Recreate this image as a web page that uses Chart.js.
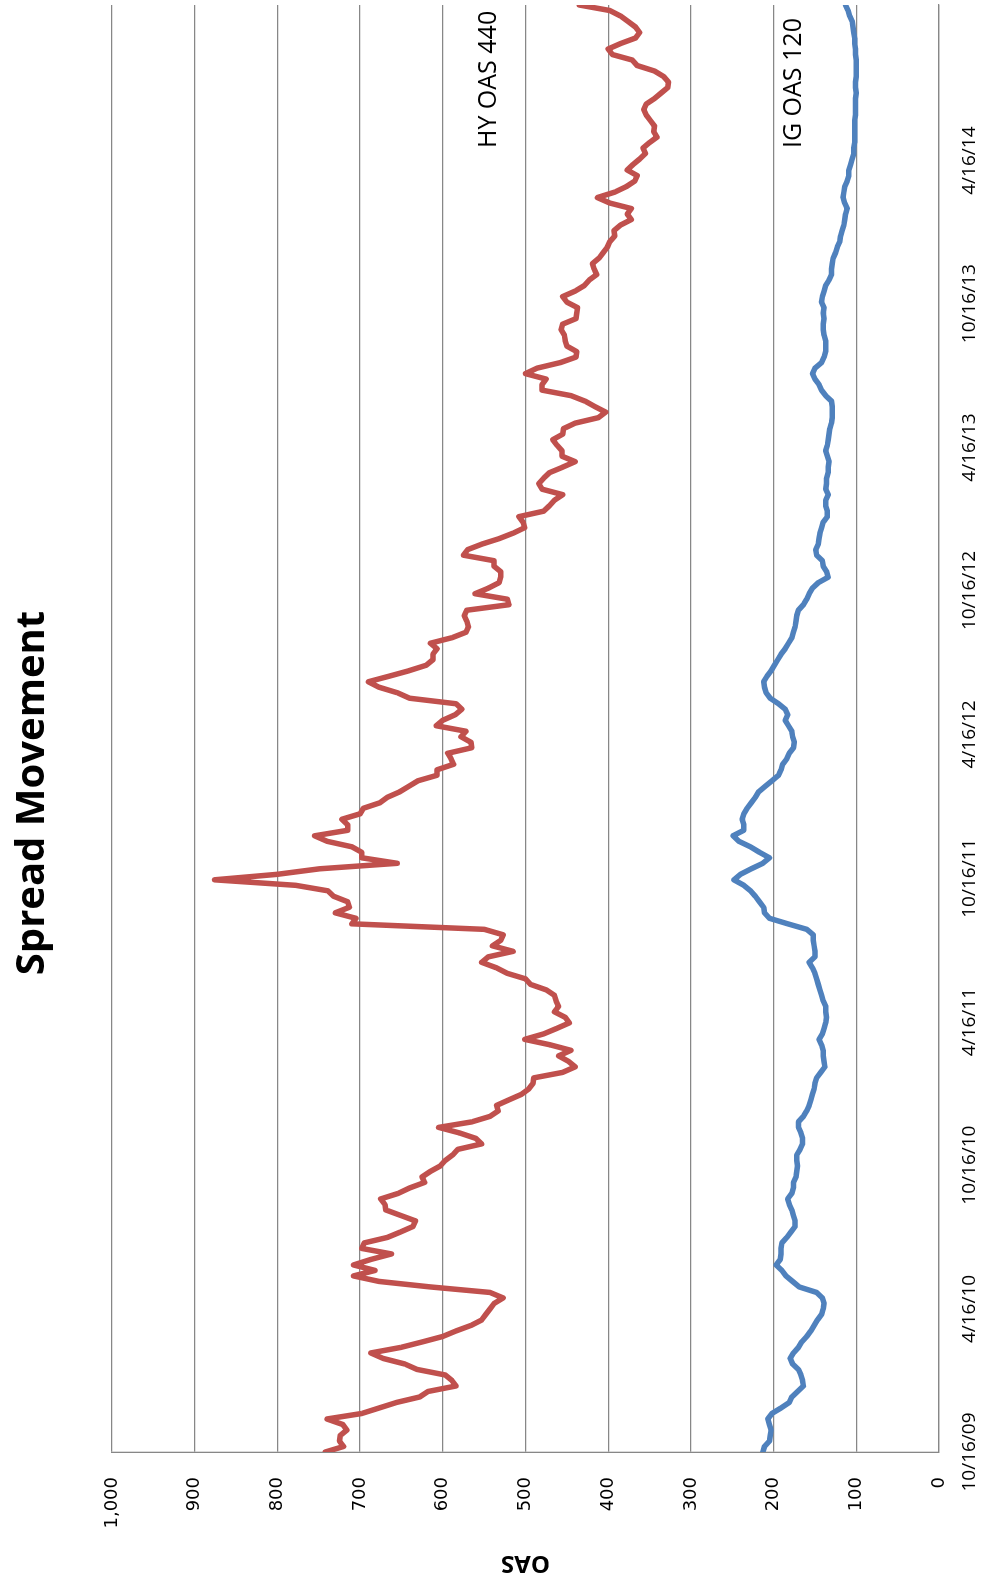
<!DOCTYPE html>
<html lang="en">
<head>
<meta charset="UTF-8" />
<title>Spread Movement</title>
<script src="https://cdn.jsdelivr.net/npm/chart.js@4.4.0/dist/chart.umd.min.js"></script>
<style>
  html, body { margin: 0; padding: 0; background: #fff; overflow: hidden; width: 990px; height: 1581px; }
  /* the whole chart is laid out on its side, as in the source sheet */
  #turn { position: absolute; left: 0; top: 0; width: 1581px; height: 990px;
          transform-origin: 0 0; transform: translate(0, 1581px) rotate(-90deg); }
</style>
</head>
<body>
<div id="turn"><canvas id="myChart" width="1581" height="990"></canvas></div>
<script>
// weekly readings, week 0 = 10/16/09
const startLabel = '10/16/09';
const tickLabels = ['10/16/09', '4/16/10', '10/16/10', '4/16/11', '10/16/11',
                    '4/16/12', '10/16/12', '4/16/13', '10/16/13', '4/16/14'];
const valueTicks = [0, 100, 200, 300, 400, 500, 600, 700, 800, 900, 1000];

const hyOas = [
  742, 720, 725, 724, 716, 721, 740, 698, 677, 656,
  628, 618, 584, 589, 597, 631, 646, 672, 687, 651,
  625, 600, 584, 566, 553, 548, 543, 538, 527, 543,
  615, 677, 708, 682, 708, 687, 662, 698, 695, 667,
  651, 636, 633, 651, 669, 670, 675, 654, 640, 622,
  625, 615, 603, 597, 588, 582, 553, 560, 580, 605,
  565, 543, 533, 535, 520, 505, 496, 491, 490, 455,
  440, 448, 460, 445, 470, 501, 478, 462, 447, 452,
  465, 460, 463, 465, 475, 494, 500, 522, 535, 553,
  545, 515, 540, 530, 527, 550, 710, 705, 730, 713,
  715, 732, 739, 778, 876, 800, 749, 655, 698, 698,
  710, 740, 755, 715, 715, 722, 700, 696, 676, 667,
  652, 641, 630, 607, 607, 587, 590, 594, 565, 566,
  578, 572, 608, 600, 585, 577, 584, 640, 655, 677,
  690, 665, 641, 620, 612, 612, 607, 615, 589, 572,
  569, 571, 574, 571, 520, 522, 561, 545, 532, 530,
  530, 538, 538, 575, 570, 553, 532, 515, 501, 503,
  508, 478, 471, 465, 455, 480, 484, 478, 471, 455,
  440, 456, 456, 462, 467, 455, 454, 440, 412, 403,
  416, 428, 445, 480, 480, 475, 500, 486, 458, 439,
  438, 450, 452, 453, 457, 455, 439, 438, 437, 450,
  455, 440, 429, 423, 414, 417, 419, 411, 406, 401,
  398, 392, 393, 385, 372, 377, 372, 398, 413, 392,
  378, 368, 365, 377, 370, 362, 355, 358, 350, 341,
  345, 344, 349, 354, 357, 354, 344, 336, 328, 327,
  333, 344, 365, 371, 395, 400, 385, 367, 362, 367,
  376, 385, 398, 435
];

const igOas = [
  213, 211, 205, 204, 203, 205, 207, 202, 191, 181,
  178, 171, 164, 165, 167, 170, 177, 180, 176, 170,
  166, 160, 155, 151, 147, 142, 140, 139, 141, 148,
  169, 177, 185, 190, 197, 192, 191, 191, 190, 184,
  179, 174, 174, 176, 178, 181, 183, 178, 176, 176,
  173, 172, 171, 172, 172, 168, 165, 165, 167, 170,
  170, 164, 160, 157, 155, 153, 151, 150, 148, 143,
  138, 139, 140, 140, 142, 145, 141, 139, 137, 136,
  137, 137, 140, 142, 144, 146, 148, 150, 153, 157,
  150, 150, 151, 152, 152, 160, 183, 205, 211, 212,
  217, 222, 228, 236, 248, 240, 227, 213, 205, 217,
  228, 242, 249, 236, 236, 238, 236, 232, 227, 222,
  218, 210, 202, 194, 191, 189, 184, 181, 176, 175,
  177, 178, 182, 186, 183, 186, 194, 204, 209, 211,
  212, 208, 203, 199, 195, 191, 186, 182, 178, 176,
  174, 173, 172, 170, 164, 160, 157, 153, 146, 134,
  136, 140, 141, 148, 149, 146, 145, 144, 142, 140,
  135, 135, 137, 137, 134, 137, 136, 136, 134, 134,
  133, 135, 137, 135, 134, 133, 132, 130, 129, 129,
  129, 130, 137, 142, 145, 150, 153, 150, 142, 139,
  137, 137, 137, 139, 140, 140, 139, 140, 139, 142,
  141, 139, 137, 133, 130, 130, 129, 128, 125, 123,
  120, 119, 117, 115, 114, 113, 111, 114, 116, 115,
  114, 111, 109, 109, 107, 105, 103, 103, 102, 102,
  102, 102, 102, 101, 101, 101, 101, 100, 101, 101,
  100, 100, 100, 100, 101, 101, 102, 102, 103, 104,
  105, 108, 110, 113
];

// labels written on the plot, anchored in data units (week, OAS)
const noteWeek = 237;
const noteText = ['HY OAS 440', 'IG OAS 120'];
const noteValue = [536, 167];

function weekOf(label) {
  const p = label.split('/').map(Number);
  const s = startLabel.split('/').map(Number);
  const ms = Date.UTC(2000 + p[2], p[0] - 1, p[1]) - Date.UTC(2000 + s[2], s[0] - 1, s[1]);
  return ms / 86400000 / 7;
}

const GRID = '#878787';

const notePlugin = {
  id: 'notes',
  afterDatasetsDraw(chart) {
    const ctx = chart.ctx;
    const xs = chart.scales.x, ys = chart.scales.y;
    ctx.save();
    ctx.font = '25px "Open Sans"';
    ctx.fillStyle = '#000';
    ctx.textAlign = 'left';
    ctx.textBaseline = 'alphabetic';
    noteText.forEach((t, i) => {
      ctx.fillText(t, xs.getPixelForValue(noteWeek), ys.getPixelForValue(noteValue[i]));
    });
    ctx.restore();
  }
};

const ctx = document.getElementById('myChart').getContext('2d');
const myChart = new Chart(ctx, {
  type: 'line',
  data: {
    datasets: [{
      label: 'HY OAS',
      data: hyOas.map((v, i) => ({ x: i, y: v })),
      borderColor: '#C0504D',
      borderWidth: 5.5,
      pointRadius: 0,
      borderJoinStyle: 'round',
      borderCapStyle: 'round',
      tension: 0
    }, {
      label: 'IG OAS',
      data: igOas.map((v, i) => ({ x: i, y: v })),
      borderColor: '#4F81BD',
      borderWidth: 5.5,
      pointRadius: 0,
      borderJoinStyle: 'round',
      borderCapStyle: 'round',
      tension: 0
    }]
  },
  options: {
    responsive: false,
    animation: false,
    layout: { padding: { left: 0, right: 5, top: 0, bottom: 0 } },
    plugins: {
      legend: { display: false },
      tooltip: { enabled: false },
      title: {
        display: true,
        text: 'Spread Movement',
        color: '#000',
        font: { family: '"Open Sans"', size: 40, weight: 'bold' },
        padding: { top: 9, bottom: 55 }
      }
    },
    scales: {
      x: {
        type: 'linear',
        min: 0,
        max: hyOas.length - 1,
        afterBuildTicks: (scale) => {
          scale.ticks = tickLabels.map(l => ({ value: weekOf(l) }));
        },
        afterFit: (scale) => { scale.height = 51; },
        ticks: {
          autoSkip: false,
          maxRotation: 0,
          padding: 19,
          color: '#000',
          font: { family: '"Open Sans"', size: 19 },
          callback: (value, index) => tickLabels[index]
        },
        grid: { display: false, drawTicks: false },
        border: { display: true, color: GRID, width: 1.3 }
      },
      y: {
        min: 0,
        max: 1000,
        afterBuildTicks: (scale) => {
          scale.ticks = valueTicks.map(v => ({ value: v }));
        },
        afterFit: (scale) => { scale.width = 129; },
        ticks: {
          padding: 25,
          color: '#000',
          font: { family: '"DejaVu Sans"', size: 18 },
          callback: (v) => v.toLocaleString('en-US')
        },
        grid: { color: GRID, lineWidth: 1.3, drawTicks: false },
        border: { display: true, color: GRID, width: 1.3 },
        title: {
          display: true,
          text: 'OAS',
          color: '#000',
          font: { family: '"Open Sans"', size: 24, weight: 'bold' },
          padding: { top: 4, bottom: 0 }
        }
      }
    }
  },
  plugins: [notePlugin]
});
</script>
</body>
</html>
